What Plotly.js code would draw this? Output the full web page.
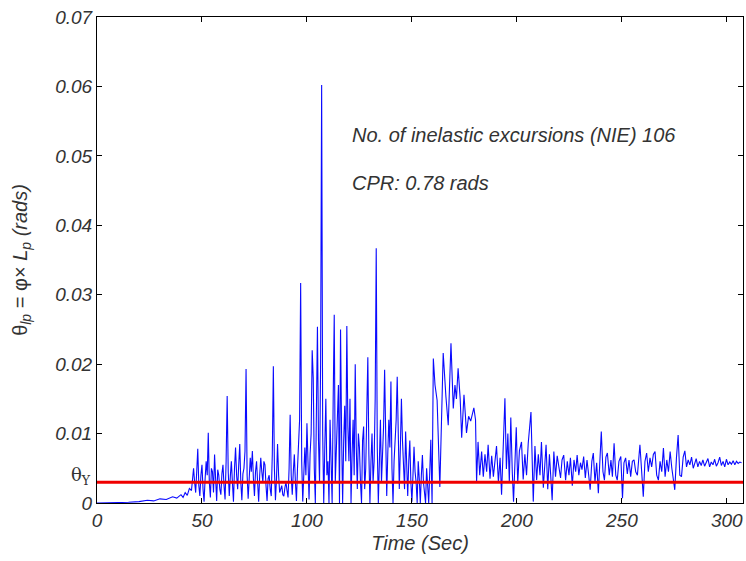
<!DOCTYPE html>
<html>
<head>
<meta charset="utf-8">
<script src="https://cdn.plot.ly/plotly-3.0.1.min.js"></script>
<style>html,body{margin:0;padding:0;background:#fff;}#chart{width:746px;height:561px;}</style>
</head>
<body>
<div id="chart"></div>
<script>
// Quiet start (0-45 s)
const tQuiet = [0, 5, 10, 15, 20, 24, 27, 30, 33, 36, 38, 40, 41, 42, 43, 44, 45];
const vQuiet = [0, 0, 0.0001, 0.0001, 0.0002, 0.0004, 0.0003, 0.0006, 0.0005, 0.0009, 0.0007, 0.0012, 0.0008, 0.0015, 0.0011, 0.0021, 0.0018];

// Growth (46-100 s)
const tGrowth = [
  46, 46.5, 47, 47.5, 48, 48.5, 49, 49.5, 50, 50.5,
  51, 51.5, 52, 52.5, 53, 53.5, 54, 54.5, 55, 55.5,
  56, 56.5, 57, 57.5, 58, 58.5, 59, 59.5, 60, 60.5,
  61, 61.5, 62, 62.5, 63, 63.5, 64, 64.5, 65, 65.5,
  66, 66.5, 67, 67.5, 68, 68.5, 69, 69.5, 70, 70.5,
  71, 71.5, 72, 72.5, 73, 73.5, 74, 74.5, 75, 75.5,
  76, 76.5, 77, 77.5, 78, 78.5, 79, 79.5, 80, 80.5,
  81, 81.5, 82, 82.5, 83, 83.5, 84, 84.5, 85, 85.5,
  86, 86.5, 87, 87.5, 88, 88.5, 89, 89.5, 90, 90.5,
  91, 91.5, 92, 92.5, 93, 93.5, 94, 94.5, 95, 95.5,
  96, 96.5, 97, 97.5, 98, 98.5, 99, 99.5, 100];
const vGrowth = [
  0.0050, 0.0030, 0.0015, 0.0045, 0.0078, 0.0025, 0.0010, 0.0040, 0.0055, 0.0020,
  0.0002, 0.0035, 0.0060, 0.0040, 0.0101, 0.0030, 0.0008, 0.0050, 0.0045, 0.0015,
  0.0070, 0.0035, 0.0003, 0.0048, 0.0040, 0.0020, 0.0012, 0.0042, 0.0055, 0.0025,
  0.0005, 0.0060, 0.0154, 0.0045, 0.0010, 0.0038, 0.0060, 0.0030, 0.0002, 0.0050,
  0.0080, 0.0040, 0.0020, 0.0055, 0.0085, 0.0030, 0.0004, 0.0042, 0.0050, 0.0075,
  0.0193, 0.0040, 0.0006, 0.0035, 0.0065, 0.0045, 0.0075, 0.0035, 0.0010, 0.0045,
  0.0060, 0.0030, 0.0002, 0.0040, 0.0065, 0.0045, 0.0030, 0.0060, 0.0055, 0.0025,
  0.0003, 0.0035, 0.0040, 0.0020, 0.0010, 0.0070, 0.0197, 0.0050, 0.0004, 0.0035,
  0.0085, 0.0040, 0.0015, 0.0020, 0.0025, 0.0012, 0.0010, 0.0022, 0.0030, 0.0018,
  0.0008, 0.0050, 0.0127, 0.0040, 0.0012, 0.0045, 0.0070, 0.0030, 0.0003, 0.0050,
  0.0090, 0.0120, 0.0317, 0.0060, 0.0002, 0.0045, 0.0080, 0.0040, 0.0115];

// Strong phase (100.5-159 s)
const tStrong = [
  100.5, 101, 101.5, 102, 102.5, 103, 103.5, 104, 104.5, 105,
  105.5, 106, 106.5, 107, 107.5, 108, 108.5, 109, 109.5, 110,
  110.5, 111, 111.5, 112, 112.5, 113, 113.5, 114, 114.5, 115,
  115.5, 116, 116.5, 117, 117.5, 118, 118.5, 119, 119.5, 120,
  120.5, 121, 121.5, 122, 122.5, 123, 123.5, 124, 124.5, 125,
  125.5, 126, 126.5, 127, 127.5, 128, 128.5, 129, 129.5, 130,
  130.5, 131, 131.5, 132, 132.5, 133, 133.5, 134, 134.5, 135,
  135.5, 136, 136.5, 137, 137.5, 138, 138.5, 139, 139.5, 140,
  140.5, 141, 141.5, 142, 142.5, 143, 143.5, 144, 144.5, 145,
  145.5, 146, 146.5, 147, 147.5, 148, 148.5, 149, 149.5, 150,
  150.5, 151, 151.5, 152, 152.5, 153, 153.5, 154, 154.5, 155,
  155.5, 156, 156.5, 157, 157.5, 158, 158.5, 159];
const vStrong = [
  0.0060, 0.0005, 0.0070, 0.0100, 0.0220, 0.0180, 0.0050, 0.0000, 0.0130, 0.0254,
  0.0090, 0.0030, 0.0200, 0.0602, 0.0100, 0.0000, 0.0080, 0.0150, 0.0040, 0.0060,
  0.0000, 0.0120, 0.0060, 0.0000, 0.0150, 0.0271, 0.0030, 0.0080, 0.0120, 0.0170,
  0.0000, 0.0250, 0.0100, 0.0000, 0.0090, 0.0140, 0.0060, 0.0255, 0.0110, 0.0060,
  0.0150, 0.0000, 0.0070, 0.0120, 0.0040, 0.0200, 0.0080, 0.0020, 0.0100, 0.0080,
  0.0030, 0.0000, 0.0090, 0.0110, 0.0020, 0.0050, 0.0130, 0.0210, 0.0070, 0.0000,
  0.0060, 0.0100, 0.0030, 0.0060, 0.0150, 0.0367, 0.0080, 0.0000, 0.0060, 0.0120,
  0.0030, 0.0070, 0.0110, 0.0192, 0.0060, 0.0010, 0.0070, 0.0120, 0.0080, 0.0175,
  0.0050, 0.0000, 0.0060, 0.0090, 0.0120, 0.0182, 0.0060, 0.0020, 0.0080, 0.0150,
  0.0090, 0.0050, 0.0020, 0.0103, 0.0050, 0.0010, 0.0060, 0.0090, 0.0030, 0.0002,
  0.0040, 0.0081, 0.0045, 0.0030, 0.0000, 0.0060, 0.0035, 0.0000, 0.0040, 0.0069,
  0.0030, 0.0010, 0.0000, 0.0050, 0.0020, 0.0000, 0.0045, 0.0091];

// Elevated plateau (160-180 s)
const tPlateau = [159.6, 160.2, 161, 162, 163.3, 164.9, 166.2, 167.3, 168.6, 169.7, 170.5, 171.2, 172, 173, 173.7, 174.8, 175.5, 176, 177, 178, 179.5, 180.3];
const vPlateau = [0.0000, 0.0208, 0.0170, 0.0148, 0.0023, 0.0216, 0.0153, 0.0112, 0.0230, 0.0136, 0.0170, 0.0150, 0.0194, 0.0150, 0.0094, 0.0156, 0.0125, 0.0101, 0.0125, 0.0118, 0.0137, 0.0120];

// Decaying tail (181-307 s)
const tTail = [
  180.8, 181.5, 182.3, 183.2, 184.0, 184.8, 185.6, 186.3, 187.2, 188.0,
  188.8, 189.5, 190.3, 191.2, 192.0, 192.7, 193.5, 194.3, 195.0, 195.7,
  196.4, 197.1, 197.8, 198.4, 199.1, 199.7, 200.4, 201.2, 202.2, 203.0,
  203.8, 204.6, 205.4, 206.7, 207.8, 208.6, 209.4, 210.2, 211.0, 211.7,
  212.6, 213.3, 213.9, 214.7, 215.5, 216.2, 216.8, 217.6, 218.4, 219.2,
  220.0, 220.8, 221.5, 222.3, 223.2, 224.0, 224.8, 225.5, 226.4, 227.2,
  228.0, 228.7, 229.5, 230.3, 231.0, 231.8, 232.6, 233.4, 234.2, 234.9,
  235.7, 236.4, 237.2, 238.0, 238.8, 239.5, 240.2, 241.0, 241.7, 242.4,
  243.1, 244.0, 244.8, 245.5, 246.3, 247.1, 247.8, 248.6, 249.5, 250.3,
  251.0, 251.8, 252.6, 253.4, 254.2, 255.0, 255.8, 256.6, 257.4, 258.6,
  259.4, 260.2, 261.0, 261.8, 262.6, 263.4, 264.2, 265.0, 265.8, 266.6,
  267.4, 268.2, 269.0, 269.8, 270.6, 271.4, 272.2, 273.0, 273.8, 274.5,
  275.2, 276.0, 276.8, 277.6, 278.4, 279.2, 280.0, 280.8, 281.6, 282.4,
  283.2, 284.0, 284.6, 285.4, 286.2, 287.0, 287.8, 288.6, 289.4, 290.2,
  291.0, 291.8, 292.6, 293.4, 294.2, 295.0, 295.8, 296.6, 297.4, 298.2,
  299.0, 299.8, 300.6, 301.4, 302.2, 303.0, 303.8, 304.6, 305.4, 306.2,
  307.0];
const vTail = [
  0.0031, 0.0088, 0.0040, 0.0074, 0.0038, 0.0070, 0.0045, 0.0084, 0.0035, 0.0068,
  0.0038, 0.0060, 0.0082, 0.0030, 0.0065, 0.0012, 0.0090, 0.0151, 0.0049, 0.0100,
  0.0030, 0.0123, 0.0045, 0.0002, 0.0060, 0.0109, 0.0028, 0.0075, 0.0088, 0.0034,
  0.0070, 0.0040, 0.0086, 0.0131, 0.0002, 0.0082, 0.0033, 0.0070, 0.0040, 0.0088,
  0.0022, 0.0060, 0.0084, 0.0020, 0.0070, 0.0035, 0.0004, 0.0074, 0.0038, 0.0068,
  0.0054, 0.0036, 0.0062, 0.0069, 0.0033, 0.0060, 0.0040, 0.0065, 0.0025, 0.0062,
  0.0045, 0.0069, 0.0040, 0.0058, 0.0048, 0.0067, 0.0036, 0.0062, 0.0040, 0.0019,
  0.0060, 0.0072, 0.0030, 0.0058, 0.0014, 0.0065, 0.0103, 0.0045, 0.0033, 0.0066,
  0.0072, 0.0040, 0.0062, 0.0038, 0.0086, 0.0040, 0.0033, 0.0060, 0.0067, 0.0007,
  0.0058, 0.0065, 0.0042, 0.0062, 0.0038, 0.0060, 0.0062, 0.0045, 0.0040, 0.0084,
  0.0040, 0.0009, 0.0060, 0.0072, 0.0045, 0.0065, 0.0052, 0.0070, 0.0074, 0.0040,
  0.0033, 0.0060, 0.0045, 0.0079, 0.0038, 0.0062, 0.0045, 0.0074, 0.0050, 0.0035,
  0.0019, 0.0065, 0.0098, 0.0040, 0.0038, 0.0066, 0.0075, 0.0052, 0.0062, 0.0055,
  0.0066, 0.0050, 0.0057, 0.0064, 0.0052, 0.0060, 0.0054, 0.0062, 0.0053, 0.0058,
  0.0064, 0.0052, 0.0059, 0.0055, 0.0063, 0.0053, 0.0058, 0.0066, 0.0054, 0.0060,
  0.0052, 0.0063, 0.0055, 0.0059, 0.0056, 0.0061, 0.0055, 0.0060, 0.0057, 0.0059,
  0.0058];

const yieldRotation = 0.003;
const xTickVals = [0, 50, 100, 150, 200, 250, 300];
const xTickText = ['0', '50', '100', '150', '200', '250', '300'];
const yTickVals = [0, 0.01, 0.02, 0.03, 0.04, 0.05, 0.06, 0.07];
const yTickText = ['0', '0.01', '0.02', '0.03', '0.04', '0.05', '0.06', '0.07'];

const timeSec = [].concat(tQuiet, tGrowth, tStrong, tPlateau, tTail);
const thetaLp = [].concat(vQuiet, vGrowth, vStrong, vPlateau, vTail);

const FONT = '"Liberation Sans", Arial, Helvetica, sans-serif';
const tickFont = {family: FONT, size: 19, color: '#333'};
const italic = s => '<i>' + s + '</i>';

const traces = [
  {x: timeSec, y: thetaLp, type: 'scatter', mode: 'lines',
   line: {color: 'rgb(10,10,255)', width: 1.1}, hoverinfo: 'skip', showlegend: false},
  {x: [0, 307.7], y: [yieldRotation, yieldRotation], type: 'scatter', mode: 'lines',
   line: {color: 'rgb(240,0,0)', width: 3}, hoverinfo: 'skip', showlegend: false}
];

const layout = {
  width: 746, height: 561,
  margin: {l: 97, r: 3, t: 17, b: 58},
  paper_bgcolor: '#fff', plot_bgcolor: '#fff',
  showlegend: false,
  xaxis: {
    range: [0, 307.7], tickvals: xTickVals, ticktext: xTickText.map(italic),
    ticks: 'inside', ticklen: 5, tickcolor: '#000', tickwidth: 1,
    showline: true, linecolor: '#000', linewidth: 1, mirror: 'ticks',
    showgrid: false, zeroline: false, tickfont: tickFont,
    title: {text: '<i>Time (Sec)</i>', font: {family: FONT, size: 20, color: '#333'}, standoff: 6},
    automargin: false
  },
  yaxis: {
    range: [0, 0.07], tickvals: yTickVals, ticktext: yTickText.map(italic),
    ticks: 'inside', ticklen: 5, tickcolor: '#000', tickwidth: 1,
    showline: true, linecolor: '#000', linewidth: 1, mirror: 'ticks',
    showgrid: false, zeroline: false, tickfont: tickFont,
    title: {text: 'θ<sub><i>lp</i></sub> = φ× <i>L</i><sub><i>p</i></sub> <i>(rads)</i>',
            font: {family: FONT, size: 20, color: '#333'}, standoff: 22},
    automargin: false
  },
  annotations: [
    {x: 120.5, y: 0.053, xref: 'x', yref: 'y', xanchor: 'left', yanchor: 'middle', showarrow: false,
     text: '<i>No. of inelastic excursions (NIE) 106</i>', font: {family: FONT, size: 20, color: '#333'}},
    {x: 120.5, y: 0.0461, xref: 'x', yref: 'y', xanchor: 'left', yanchor: 'middle', showarrow: false,
     text: '<i>CPR: 0.78 rads</i>', font: {family: FONT, size: 20, color: '#333'}},
    {x: -0.006, y: 0.0039, xref: 'paper', yref: 'y', xanchor: 'right', yanchor: 'middle', showarrow: false,
     text: 'θ<sub>Y</sub>', font: {family: '"DejaVu Serif", serif', size: 18, color: '#333'}}
  ]
};

Plotly.newPlot('chart', traces, layout, {displayModeBar: false, staticPlot: true});
</script>
</body>
</html>
